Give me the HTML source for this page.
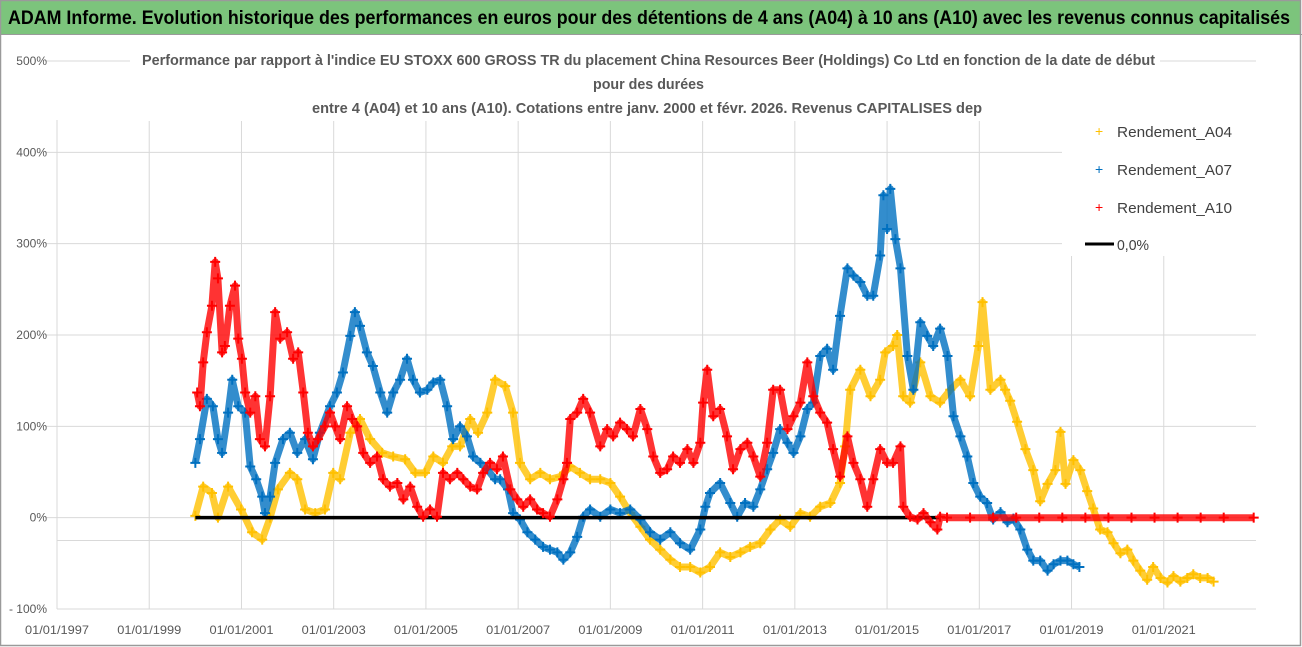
<!DOCTYPE html>
<html><head><meta charset="utf-8"><style>
html,body{margin:0;padding:0;background:#fff;}
svg{display:block;font-family:"Liberation Sans",sans-serif;}
</style></head><body>
<svg id="chart" width="1302" height="647" viewBox="0 0 1302 647" xmlns="http://www.w3.org/2000/svg">
<rect x="0" y="0" width="1302" height="647" fill="#fff"/>
<rect x="1" y="1" width="1300" height="33" fill="#7cc47c"/>
<line x1="0" y1="34.5" x2="1302" y2="34.5" stroke="#9a9a9a" stroke-width="1"/>
<text x="8" y="24" font-size="19" font-weight="bold" fill="#000" textLength="1282" lengthAdjust="spacingAndGlyphs">ADAM Informe. Evolution historique des performances en euros pour des détentions de 4 ans (A04) à 10 ans (A10) avec les revenus connus capitalisés</text>
<g id="grid"></g>
<g id="yaxis"></g>
<g id="xaxis"></g>
<rect x="130" y="44" width="1030" height="77" fill="#fff"/>
<text x="142" y="65" font-size="15" font-weight="bold" fill="#595959" textLength="1013" lengthAdjust="spacingAndGlyphs">Performance par rapport à l'indice EU STOXX 600 GROSS TR  du placement China Resources Beer (Holdings) Co Ltd en fonction de la date de début</text>
<text x="593" y="89" font-size="15" font-weight="bold" fill="#595959" textLength="111" lengthAdjust="spacingAndGlyphs">pour des durées</text>
<text x="312" y="113" font-size="15" font-weight="bold" fill="#595959" textLength="670" lengthAdjust="spacingAndGlyphs">entre 4 (A04) et 10 ans (A10).  Cotations entre janv. 2000 et févr. 2026. Revenus CAPITALISES dep</text>
<g id="series"></g>
<g>
<rect x="1062" y="118" width="196" height="138" fill="#fff"/>
<g><text x="1095" y="136" font-size="14" fill="#FFC000">+</text><text x="1117" y="137" font-size="15" fill="#404040" textLength="115" lengthAdjust="spacingAndGlyphs">Rendement_A04</text></g>
<g><text x="1095" y="174" font-size="14" fill="#0070C0">+</text><text x="1117" y="175" font-size="15" fill="#404040" textLength="115" lengthAdjust="spacingAndGlyphs">Rendement_A07</text></g>
<g><text x="1095" y="212" font-size="14" fill="#FF0000">+</text><text x="1117" y="213" font-size="15" fill="#404040" textLength="115" lengthAdjust="spacingAndGlyphs">Rendement_A10</text></g>
<g><line x1="1085" y1="244" x2="1114" y2="244" stroke="#000" stroke-width="3"/><text x="1117" y="250" font-size="15" fill="#404040" textLength="32" lengthAdjust="spacingAndGlyphs">0,0%</text></g>
</g>
<rect x="0.5" y="0.5" width="1300" height="645" fill="none" stroke="#9a9a9a" stroke-width="1.5"/>
</svg>
<script>
const yTicks = [500, 400, 300, 200, 100, 0, -100];
const yTickLabels = ["500%", "400%", "300%", "200%", "100%", "0%", "- 100%"];
const xTicks = [1997, 1999, 2001, 2003, 2005, 2007, 2009, 2011, 2013, 2015, 2017, 2019, 2021];
const xTickLabels = ["01/01/1997","01/01/1999","01/01/2001","01/01/2003","01/01/2005","01/01/2007","01/01/2009","01/01/2011","01/01/2013","01/01/2015","01/01/2017","01/01/2019","01/01/2021"];
const extraGridValue = -25;
const zeroLine = [2000.0, 2016.15];

const datesA04 = [2000.00,2000.17,2000.36,2000.49,2000.71,2000.99,2001.23,2001.45,2001.62,2001.79,2002.05,2002.21,2002.38,2002.60,2002.81,2002.99,2003.14,2003.36,2003.57,2003.79,2004.05,2004.29,2004.55,2004.77,2004.98,2005.16,2005.37,2005.57,2005.74,2005.96,2006.13,2006.33,2006.50,2006.72,2006.89,2007.04,2007.26,2007.48,2007.69,2007.91,2008.13,2008.34,2008.56,2008.78,2009.00,2009.21,2009.43,2009.65,2009.86,2010.08,2010.30,2010.51,2010.73,2010.95,2011.16,2011.38,2011.60,2011.82,2012.03,2012.25,2012.47,2012.68,2012.90,2013.12,2013.33,2013.55,2013.77,2013.98,2014.09,2014.20,2014.42,2014.64,2014.85,2014.96,2015.13,2015.22,2015.35,2015.50,2015.72,2015.94,2016.15,2016.37,2016.59,2016.80,2016.98,2017.07,2017.24,2017.46,2017.56,2017.67,2017.82,2018.00,2018.17,2018.32,2018.48,2018.65,2018.76,2018.87,2019.04,2019.19,2019.34,2019.47,2019.62,2019.78,2019.91,2020.06,2020.21,2020.34,2020.49,2020.64,2020.77,2020.93,2021.08,2021.21,2021.36,2021.51,2021.64,2021.79,2021.95,2022.08];
const valuesA04 = [2,34,27,0,34,9,-16,-24,0,31,49,42,9,5,9,49,42,93,108,86,71,67,64,49,49,67,60,78,78,108,93,115,151,144,115,60,42,49,42,45,56,49,42,42,38,23,5,-10,-24,-35,-46,-54,-54,-60,-54,-38,-43,-38,-32,-28,-13,-2,-10,5,1,12,16,38,78,140,162,133,151,181,188,200,133,126,170,133,126,140,151,133,188,236,140,151,140,128,105,75,52,18,37,52,94,37,63,52,29,10,-13,-16,-28,-39,-35,-47,-58,-68,-54,-66,-71,-64,-70,-66,-62,-66,-66,-70];

const datesA07 = [2000.00,2000.10,2000.25,2000.38,2000.49,2000.58,2000.71,2000.80,2000.93,2001.08,2001.19,2001.32,2001.45,2001.51,2001.62,2001.73,2001.90,2002.05,2002.21,2002.38,2002.55,2002.70,2002.92,2003.07,2003.20,2003.36,2003.46,2003.57,2003.72,2003.85,2004.01,2004.16,2004.29,2004.44,2004.59,2004.72,2004.87,2005.03,2005.16,2005.31,2005.46,2005.59,2005.74,2005.89,2006.02,2006.18,2006.33,2006.50,2006.61,2006.78,2006.89,2007.04,2007.20,2007.37,2007.54,2007.69,2007.85,2007.98,2008.13,2008.28,2008.41,2008.56,2008.78,2009.00,2009.21,2009.43,2009.65,2009.86,2010.08,2010.30,2010.51,2010.73,2010.95,2011.06,2011.16,2011.38,2011.60,2011.75,2011.92,2012.10,2012.25,2012.40,2012.53,2012.68,2012.84,2012.97,2013.12,2013.27,2013.40,2013.55,2013.70,2013.83,2013.98,2014.14,2014.27,2014.42,2014.57,2014.70,2014.85,2014.92,2015.00,2015.07,2015.18,2015.29,2015.44,2015.57,2015.72,2015.87,2016.00,2016.15,2016.31,2016.44,2016.59,2016.74,2016.87,2017.02,2017.17,2017.30,2017.46,2017.61,2017.74,2017.89,2018.04,2018.17,2018.32,2018.48,2018.61,2018.76,2018.91,2019.04,2019.17];
const valuesA07 = [60,86,130,122,86,71,115,151,122,115,56,42,23,5,23,60,86,93,71,86,64,93,122,137,159,199,225,210,181,166,137,115,137,151,174,151,137,140,148,151,122,86,100,89,67,60,53,42,42,31,5,-2,-16,-24,-32,-35,-38,-46,-38,-21,1,9,1,9,5,9,-2,-16,-24,-16,-28,-35,-13,12,27,38,16,1,16,12,31,53,71,97,82,71,89,119,126,177,185,162,221,273,265,258,243,243,287,353,316,360,305,273,177,140,214,199,188,207,177,111,89,67,38,23,16,-2,6,-5,-1,-13,-35,-47,-47,-58,-51,-47,-47,-51,-54];

const datesA10 = [2000.04,2000.10,2000.17,2000.25,2000.36,2000.43,2000.49,2000.58,2000.64,2000.75,2000.86,2000.93,2001.01,2001.08,2001.19,2001.30,2001.40,2001.51,2001.62,2001.73,2001.84,2001.99,2002.12,2002.23,2002.34,2002.44,2002.55,2002.66,2002.81,2002.92,2003.03,2003.14,2003.29,2003.40,2003.51,2003.64,2003.79,2003.94,2004.07,2004.22,2004.38,2004.51,2004.66,2004.81,2004.94,2005.09,2005.24,2005.37,2005.52,2005.68,2005.81,2005.96,2006.11,2006.24,2006.39,2006.54,2006.67,2006.83,2006.98,2007.11,2007.26,2007.41,2007.54,2007.69,2007.85,2007.98,2008.06,2008.13,2008.28,2008.41,2008.56,2008.78,2008.93,2009.06,2009.21,2009.36,2009.49,2009.65,2009.80,2009.93,2010.08,2010.23,2010.36,2010.51,2010.67,2010.80,2010.95,2011.01,2011.10,2011.23,2011.38,2011.53,2011.66,2011.82,2011.97,2012.10,2012.25,2012.40,2012.53,2012.68,2012.84,2012.97,2013.12,2013.27,2013.40,2013.55,2013.70,2013.83,2013.98,2014.14,2014.27,2014.42,2014.57,2014.70,2014.85,2015.00,2015.13,2015.29,2015.35,2015.50,2015.66,2015.79,2015.94,2016.09,2016.15,2016.30,2016.80,2017.30,2017.80,2018.30,2018.80,2019.30,2019.80,2020.30,2020.80,2021.30,2021.80,2022.30,2022.95];
const valuesA10 = [137,122,170,203,232,280,262,181,188,232,254,196,174,137,115,133,86,78,133,225,196,203,174,181,137,93,78,86,100,115,100,86,122,108,100,71,60,67,42,34,38,20,34,12,1,9,1,49,42,49,42,34,31,49,60,53,67,31,20,12,20,9,5,1,20,42,60,108,115,130,115,78,97,89,104,97,89,119,97,67,49,53,67,60,75,60,82,126,162,111,119,89,53,75,82,67,45,82,140,140,97,111,126,170,133,115,104,75,45,89,60,42,12,42,75,60,60,78,12,1,-2,5,-5,-13,1,0,0,0,0,0,0,0,0,0,0,0,0,0,0];

const X0 = 57, X1 = 1256, Y0 = 609, YT = 61;
const yearMin = 1997, yearMax = 2023;
const vMin = -100, vMax = 500;
function xScale(yr){ return X0 + (yr - yearMin) / (yearMax - yearMin) * (X1 - X0); }
function yScale(v){ return Y0 - (v - vMin) / (vMax - vMin) * (Y0 - YT); }
const NS = "http://www.w3.org/2000/svg";
function mk(tag, attrs, parent){ const e = document.createElementNS(NS, tag); for (const k in attrs) e.setAttribute(k, attrs[k]); parent.appendChild(e); return e; }

const grid = document.getElementById('grid');
yTicks.forEach(function(v){
  if (v === vMin) return;
  const gl = mk('line', {x1: X0 - 12, x2: X1, y1: yScale(v), y2: yScale(v), stroke: '#d9d9d9', 'stroke-width': 1}, grid);
  
  
});
const eg = mk('line', {x1: X0, x2: X1, y1: yScale(extraGridValue), y2: yScale(extraGridValue), stroke: '#d9d9d9', 'stroke-width': 1}, grid);


xTicks.forEach(function(t){
  const gl = mk('line', {x1: xScale(t), x2: xScale(t), y1: 120, y2: Y0, stroke: '#d9d9d9', 'stroke-width': 1}, grid);
  
  
});
const ax = mk('line', {x1: X0, x2: X1, y1: Y0, y2: Y0, stroke: '#d9d9d9', 'stroke-width': 1}, grid);



const yaxis = document.getElementById('yaxis');
yTicks.forEach(function(v, i){
  const t = mk('text', {x: 47, y: yScale(v) + 4, 'text-anchor': 'end', 'font-size': 12, fill: '#595959'}, yaxis);
  
  
  t.textContent = yTickLabels[i];
});
const xaxis = document.getElementById('xaxis');
xTicks.forEach(function(tk, i){
  const t = mk('text', {x: xScale(tk), y: 634, 'text-anchor': 'middle', 'font-size': 12, fill: '#595959', textLength: 64, lengthAdjust: 'spacingAndGlyphs'}, xaxis);
  
  
  t.textContent = xTickLabels[i];
});

const series = document.getElementById('series');
function drawSeries(dates, vals, color, name){
  const g = mk('g', {}, series);
  
  
  const pts = dates.map(function(d, i){ return xScale(d).toFixed(1) + ',' + yScale(vals[i]).toFixed(1); }).join(' ');
  const pl = mk('polyline', {points: pts, fill: 'none', stroke: color, 'stroke-width': 7, 'stroke-linejoin': 'round', 'stroke-opacity': 0.8}, g);
  
  
  dates.forEach(function(d, i){
    const x = xScale(d), y = yScale(vals[i]);
    const p = mk('path', {d: 'M' + (x - 5) + ' ' + y + 'H' + (x + 5) + 'M' + x + ' ' + (y - 5) + 'V' + (y + 5), stroke: color, 'stroke-width': 2}, g);
    
    
  });
}
drawSeries(datesA04, valuesA04, '#FFC000', 'series-a04');
drawSeries(datesA07, valuesA07, '#0070C0', 'series-a07');
const zl = mk('line', {x1: xScale(zeroLine[0]), x2: xScale(zeroLine[1]), y1: yScale(0), y2: yScale(0), stroke: '#000', 'stroke-width': 3.5}, series);


drawSeries(datesA10, valuesA10, '#FF0000', 'series-a10');
</script>
</body></html>
